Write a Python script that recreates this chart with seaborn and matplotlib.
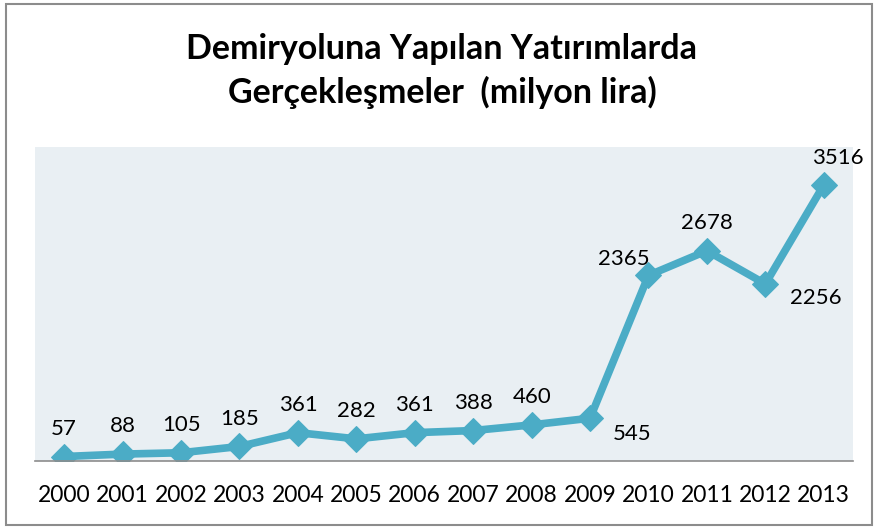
import matplotlib
matplotlib.use("Agg")
import matplotlib.pyplot as plt
import seaborn as sns
import pandas as pd
from matplotlib.patches import Rectangle

years = ["2000", "2001", "2002", "2003", "2004", "2005", "2006",
         "2007", "2008", "2009", "2010", "2011", "2012", "2013"]
values = [57, 88, 105, 185, 361, 282, 361, 388, 460, 545, 2365, 2678, 2256, 3516]
title = "Demiryoluna Yapılan Yatırımlarda\nGerçekleşmeler  (milyon lira)"

sns.set_theme(style="white")
plt.rcParams['font.family'] = ['Lato', 'DejaVu Sans']

df = pd.DataFrame({"x": range(len(years)), "v": values})

fig = plt.figure(figsize=(8.78, 5.28), dpi=100)
ax = fig.add_axes([35/878, 1-461/528, (853-35)/878, (461-147)/528])
ax.set_facecolor('#E9EFF3')

color = '#4BACC6'
sns.lineplot(data=df, x="x", y="v", ax=ax, color=color, linewidth=5.5,
             marker='D', markersize=13, markeredgecolor=color, markerfacecolor=color)

ax.set_xlim(-0.5, len(years) - 0.5)
ax.set_ylim(0, 4000)
ax.set_xticks(range(len(years)))
ax.set_xticklabels(years, fontsize=16.5, color='black')
ax.tick_params(axis='x', length=0, pad=17)
ax.set_yticks([])
ax.set_xlabel("")
ax.set_ylabel("")
for s in ['top', 'right', 'left']:
    ax.spines[s].set_visible(False)
ax.spines['bottom'].set_color('#8C8C8C')
ax.spines['bottom'].set_linewidth(1.2)

# label placement offsets (points), label centre relative to point
offsets = {9: (30, -11.5), 10: (-18, 11.5), 12: (36, -10), 13: (10, 19.5)}
for i, v in enumerate(values):
    dx, dy = offsets.get(i, (0, 20))
    ax.annotate(str(v), (i, v), xytext=(dx, dy), textcoords='offset points',
                ha='center', va='center', fontsize=16, color='black')

fig.text(442/878, 1-71/528, title, ha='center', va='center', fontsize=24.5,
         fontweight='bold', linespacing=1.4, color='black')

fig.patches.append(Rectangle((6/878, 3/528), 1-12/878, 1-7/528, transform=fig.transFigure,
                             fill=False, edgecolor='#8C8C8C', linewidth=1.5))

fig.savefig("out.png", dpi=100)
